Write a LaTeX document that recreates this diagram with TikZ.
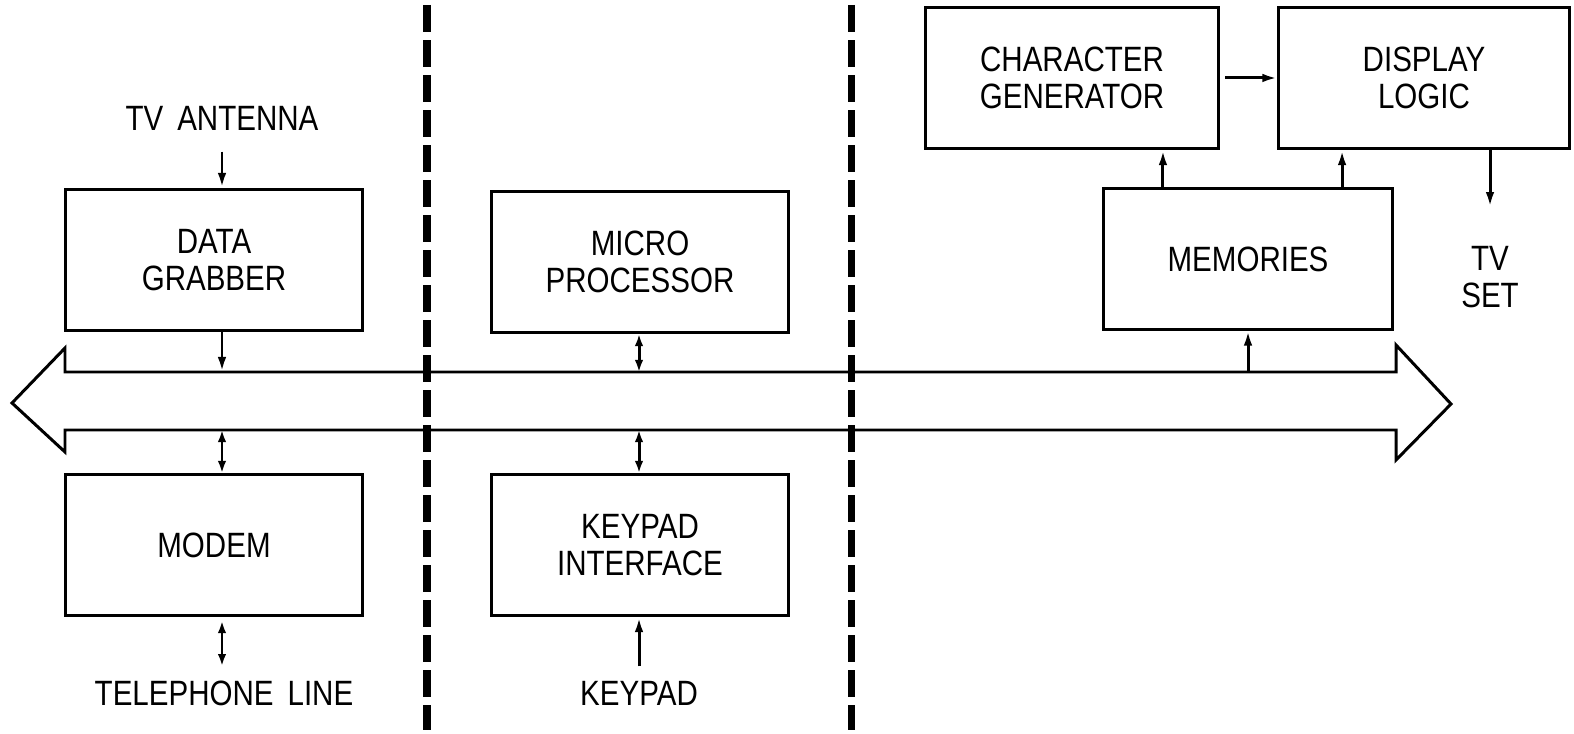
\documentclass[tikz,border=0pt]{standalone}
\usepackage{fontspec}
\setmainfont{Liberation Sans}[FakeStretch=0.84,WordSpace=1.7]
\usetikzlibrary{arrows.meta}

\begin{document}
\begin{tikzpicture}[x=0.01cm,y=-0.01cm,line width=0.85pt,font=\fontsize{10}{10.3}\selectfont,
  block/.style={draw,minimum width=2.96cm,minimum height=1.41cm,align=center,inner sep=0pt},
  lbl/.style={align=center,inner sep=0pt},
  arr/.style={-{Latex[length=1.5mm,width=0.85mm]}},
  darr/.style={{Latex[length=1.2mm,width=0.85mm]}-{Latex[length=1.2mm,width=0.85mm]}},
  sep/.style={line width=2pt,dash pattern=on 0.27cm off 0.08cm}]
\useasboundingbox (0,0) rectangle (1574,734);

% separators
\draw[sep] (427,5) -- (427,730);
\draw[sep] (851,5) -- (851,730);

% bus
\draw (65,372) coordinate (bustop) -- (1396,372) -- (1396,345) -- (1451,404) -- (1396,460) -- (1396,430)
  -- (65,430) coordinate (busbot) -- (65,452) -- (12,403) -- (65,348) -- cycle;

% left column
\node[lbl] (ant) at (222,118) {TV ANTENNA};
\node[block] (grab) at (214,260) {DATA\\GRABBER};
\node[block] (modem) at (214,545) {MODEM};
\node[lbl] (tel) at (224,693) {TELEPHONE LINE};

\draw[arr] ([yshift=-0.2cm]ant.south) -- (ant.south |- grab.north);
\draw[arr] (grab.south -| ant) -- (ant |- bustop);
\draw[darr] (ant |- busbot) -- (ant |- modem.north);
\draw[darr] ([yshift=-0.04cm]modem.south -| ant) -- ([yshift=0.13cm]tel.north -| ant);

% middle column
\node[block] (micro) at (640,262) {MICRO\\PROCESSOR};
\node[block] (keyif) at (640,545) {KEYPAD\\INTERFACE};
\node[lbl] (key) at (639,693) {KEYPAD};

\draw[darr] (micro.south -| key) -- (key |- bustop);
\draw[darr] (key |- busbot) -- (key |- keyif.north);
\draw[arr] ([yshift=0.13cm]key.north) -- (key |- keyif.south);

% right column
\node[block,minimum width=2.93cm] (cg) at (1072,78) {CHARACTER\\GENERATOR};
\node[block,minimum width=2.9cm] (dl) at (1424,78) {DISPLAY\\LOGIC};
\node[block,minimum width=2.89cm,minimum height=1.4cm] (mem) at (1248,259) {MEMORIES};
\node[lbl] (tv) at (1490,277) {TV\\SET};

\coordinate (m1) at ([xshift=0.61cm]mem.north west);
\coordinate (m2) at ([xshift=-0.52cm]mem.north east);
\draw[arr] ([xshift=0.05cm]cg.east) -- (dl.west |- cg.east);
\draw[arr] (m1) -- (m1 |- cg.south);
\draw[arr] (m2) -- (m2 |- dl.south);
\draw[arr] (dl.south -| tv) -- ([yshift=0.38cm]tv.north);
\draw[arr] (mem.south |- bustop) -- (mem.south);

\end{tikzpicture}
\end{document}
